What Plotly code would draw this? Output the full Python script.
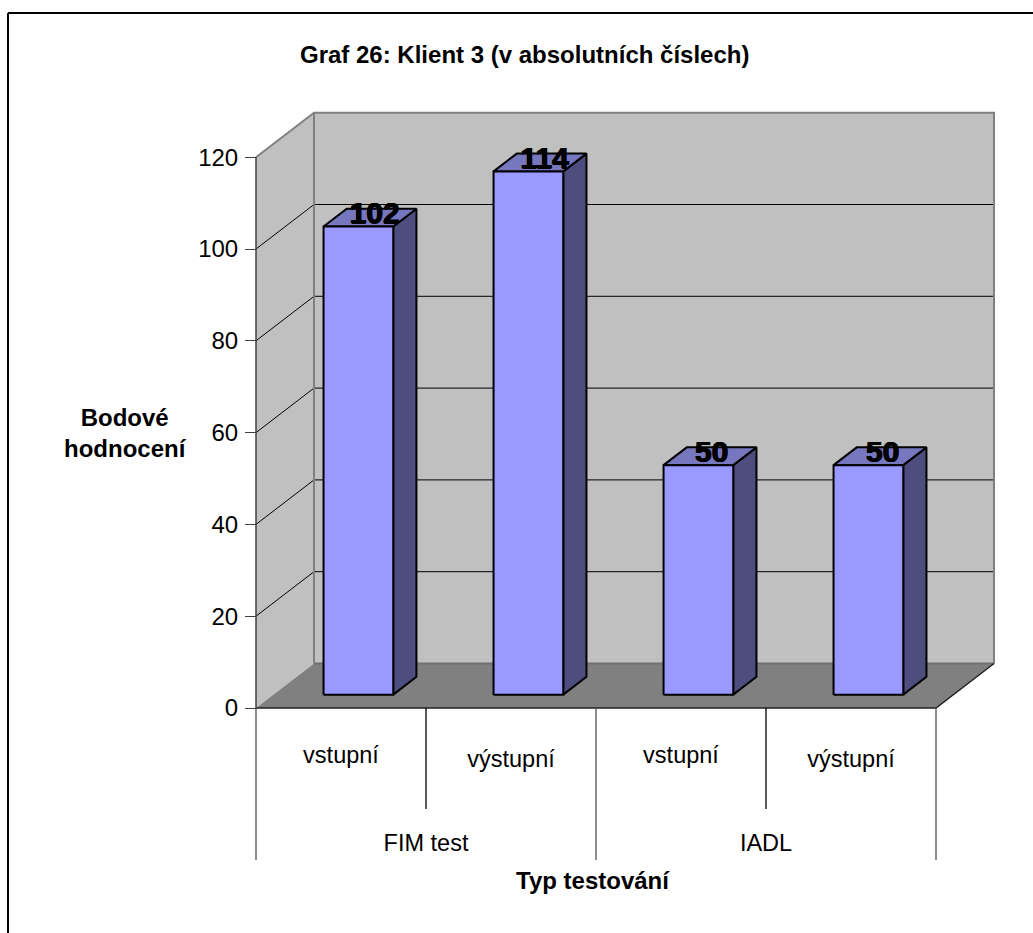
import plotly.graph_objects as go

# Chart content
title = "Graf 26: Klient 3 (v absolutních číslech)"
y_title = "Bodové<br>hodnocení"
x_title = "Typ testování"
categories = ["vstupní", "výstupní", "vstupní", "výstupní"]
category_label_levels = [-10.7, -11.6, -10.8, -11.6]
groups = ["FIM test", "IADL"]
group_centres = [2, 6]
values = [102, 114, 50, 50]
y_ticks = [0, 20, 40, 60, 80, 100, 120]

# Page and axis calibration
W, H = 1033, 933
X0_PX, UNIT_X = 256, 170
Y0_PX, UNIT_Y = 708, 4.59
DEPTH_X = 58 / UNIT_X        # category units shifted at full depth
DEPTH_Y = 44.5 / UNIT_Y      # value units shifted at full depth
BAR_WIDTH = 0.41
BAR_Z0, BAR_Z1 = 0.30, 0.70
LABEL_SHIFT_PX = [3.5, 3.5, 0.5, 1.5]
N = len(categories)
TOP = max(y_ticks)

WALL = "#C0C0C0"
FLOOR = "#808080"
EDGE = "#808080"
FRONT = "#9999FF"
SIDE = "#4D4D80"
CAP = "#7777BF"
FONT = "Liberation Sans"


def proj(x, v, z=0.0):
    """Oblique projection of (category, value, depth) on the flat axes."""
    return x + z * DEPTH_X, v + z * DEPTH_Y


def poly(points, fill, line="rgba(0,0,0,0)", width=0):
    xs, ys = zip(*[proj(*p) for p in points + points[:1]])
    return go.Scatter(x=xs, y=ys, mode="lines", fill="toself", fillcolor=fill,
                      line=dict(color=line, width=width), hoverinfo="skip")


def path(points, color, width=1):
    xs, ys = zip(*[proj(*p) for p in points])
    return go.Scatter(x=xs, y=ys, mode="lines", line=dict(color=color, width=width),
                      hoverinfo="skip")


fig = go.Figure()

# Walls and floor
fig.add_trace(poly([(0, 0, 1), (N, 0, 1), (N, TOP, 1), (0, TOP, 1)], WALL))
fig.add_trace(poly([(0, 0, 0), (0, 0, 1), (0, TOP, 1), (0, TOP, 0)], WALL))
fig.add_trace(poly([(0, 0, 0), (N, 0, 0), (N, 0, 1), (0, 0, 1)], FLOOR))

# Gridlines run along the side wall and across the back wall
for t in y_ticks[1:-1]:
    fig.add_trace(path([(0, t, 0), (0, t, 1), (N, t, 1)], "#000000", 1))

# Wall outlines
fig.add_trace(path([(0, 0, 1), (0, TOP, 1), (N, TOP, 1), (N, 0, 1)], EDGE, 2))
fig.add_trace(path([(0, TOP, 0), (0, TOP, 1)], EDGE, 2))
fig.add_trace(path([(0, 0, 1), (N, 0, 1)], "#707070", 2))
fig.add_trace(path([(0, 0, 0), (0, TOP, 0)], "#404040", 1.5))
fig.add_trace(path([(0, 0, 0), (N, 0, 0), (N, 0, 1)], "#202020", 1.5))

# Bars: side and cap first, front face on top
for i, v in enumerate(values):
    c = i + 0.5
    l, r = c - BAR_WIDTH / 2, c + BAR_WIDTH / 2
    fig.add_trace(poly([(r, 0, BAR_Z0), (r, 0, BAR_Z1), (r, v, BAR_Z1), (r, v, BAR_Z0)],
                       SIDE, "#000000", 2))
    fig.add_trace(poly([(l, v, BAR_Z0), (r, v, BAR_Z0), (r, v, BAR_Z1), (l, v, BAR_Z1)],
                       CAP, "#000000", 2))
    fig.add_trace(poly([(l, 0, BAR_Z0), (r, 0, BAR_Z0), (r, v, BAR_Z0), (l, v, BAR_Z0)],
                       FRONT, "#000000", 2))

# Value labels sit on the bar caps
label_x = [i + 0.5 + 0.52 * DEPTH_X + LABEL_SHIFT_PX[i] / UNIT_X for i in range(N)]
label_y = [v + BAR_Z0 * DEPTH_Y - 0.9 for v in values]
fig.add_trace(go.Scatter(x=label_x, y=label_y, mode="text", text=[str(v) for v in values],
                         textposition="top center", hoverinfo="skip",
                         textfont=dict(family=FONT, size=30, color="#000000", weight="bold",
                                       shadow="0.6px 0 0 #000, -0.6px 0 0 #000, 0 0.6px 0 #000")))

# Multi-level category separators below the floor
for i in range(N + 1):
    outer = i % 2 == 0
    low = -33.1 if outer else -22
    fig.add_trace(path([(i, 0), (i, low)], "#505050" if outer else "#000000", 1.3))

fig.add_trace(go.Scatter(x=[i + 0.5 for i in range(N)], y=category_label_levels,
                         mode="text", text=categories, hoverinfo="skip",
                         textfont=dict(family=FONT, size=23.5, color="#000000")))
fig.add_trace(go.Scatter(x=[c / 2 for c in group_centres], y=[-29.8] * len(groups),
                         mode="text", text=groups, hoverinfo="skip",
                         textfont=dict(family=FONT, size=23.5, color="#000000")))

bold = dict(family=FONT, size=24, color="#000000", weight="bold")


def page_text(text, px, py):
    return dict(text=text, x=px / W, y=1 - py / H, xref="paper", yref="paper", showarrow=False,
                xanchor="center", yanchor="middle", align="center", font=bold)


fig.update_layout(
    width=W, height=H, autosize=False,
    margin=dict(l=0, r=0, t=0, b=0),
    paper_bgcolor="#FFFFFF", plot_bgcolor="#FFFFFF",
    showlegend=False,
    xaxis=dict(visible=False, domain=[0, 1], fixedrange=True,
               range=[-X0_PX / UNIT_X, (W - X0_PX) / UNIT_X]),
    yaxis=dict(domain=[0, 1], anchor="free", position=X0_PX / W, fixedrange=True,
               range=[(Y0_PX - H) / UNIT_Y, Y0_PX / UNIT_Y],
               tickmode="array", tickvals=y_ticks, ticks="outside", ticklen=11,
               tickcolor="#404040", tickwidth=1, showgrid=False, zeroline=False,
               showline=False, ticklabelstandoff=2,
               tickfont=dict(family=FONT, size=24, color="#000000")),
    annotations=[
        page_text(title, 524.5, 54.5),
        page_text(y_title, 125, 433),
        page_text(x_title, 593, 880),
    ],
    shapes=[
        dict(type="line", xref="paper", yref="paper", x0=8 / W, x1=1, y0=1 - 13 / H, y1=1 - 13 / H,
             line=dict(color="#000000", width=2)),
        dict(type="line", xref="paper", yref="paper", x0=8 / W, x1=8 / W, y0=0, y1=1 - 13 / H,
             line=dict(color="#000000", width=2)),
    ],
)

fig.write_html("out.html")
